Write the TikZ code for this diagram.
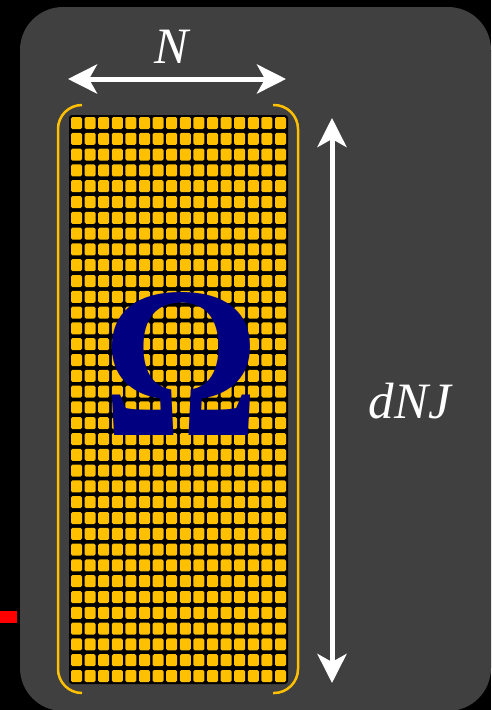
\documentclass[tikz,border=0pt]{standalone}
\usepackage{fontspec}
\setmainfont{Liberation Serif}
\usetikzlibrary{arrows.meta}
\definecolor{panelgray}{HTML}{404040}
\definecolor{cellyellow}{HTML}{FFC000}
\definecolor{omeganavy}{HTML}{000080}
\definecolor{markred}{HTML}{FF0000}
\tikzset{
  panel/.style={fill=panelgray,rounded corners=43pt},
  gridbg/.style={fill=black,rounded corners=3pt},
  cell/.style={fill=cellyellow,rounded corners=1.5pt},
  bracket/.style={draw=cellyellow,line width=2.5pt,rounded corners=24pt},
  dimar/.style={{Stealth[length=29pt,width=29pt,inset=8pt]}-{Stealth[length=29pt,width=29pt,inset=8pt]},draw=white,line width=5pt},
  dimlabel/.style={text=white,font=\fontsize{51}{51}\selectfont\itshape,inner sep=0pt,anchor=base},
  omega/.style={text=omeganavy,font=\fontsize{216}{216}\selectfont\bfseries,inner sep=0pt},
}

\begin{document}
\begin{tikzpicture}[x=1pt,y=-1pt]
  \useasboundingbox[fill=black] (0,0) rectangle (491,710);
  \fill[panel] (20,7) rectangle (491,711);
  \fill[markred] (0,611) rectangle (17,623);
  % grid of cells
  \fill[gridbg] (69,115) rectangle (288,684);
  \foreach \col in {0,...,15}
    \foreach \row in {0,...,35}
      \fill[cell] ({71+13.6*\col},{117+15.8*\row}) rectangle ++(11,12);
  \draw[bracket] (82,105) -| (58,693) -- (82,693);
  \draw[bracket] (273,105) -| (298,693) -- (273,693);
  \node[omega] (omega) at (181,364) {\scalebox{0.9}[1]{Ω}};
  % dimensions
  \coordinate (nleft) at (68,79);
  \coordinate (nright) at (286,79);
  \coordinate (htop) at (332,118);
  \coordinate (hbot) at (332,683);
  \draw[dimar] (nleft) -- (nright);
  \draw[dimar] (htop) -- (hbot);
  \node[dimlabel] (nlabel) at (172,63) {N};
  \node[dimlabel] (hlabel) at (410,418) {dNJ};
\end{tikzpicture}
\end{document}
